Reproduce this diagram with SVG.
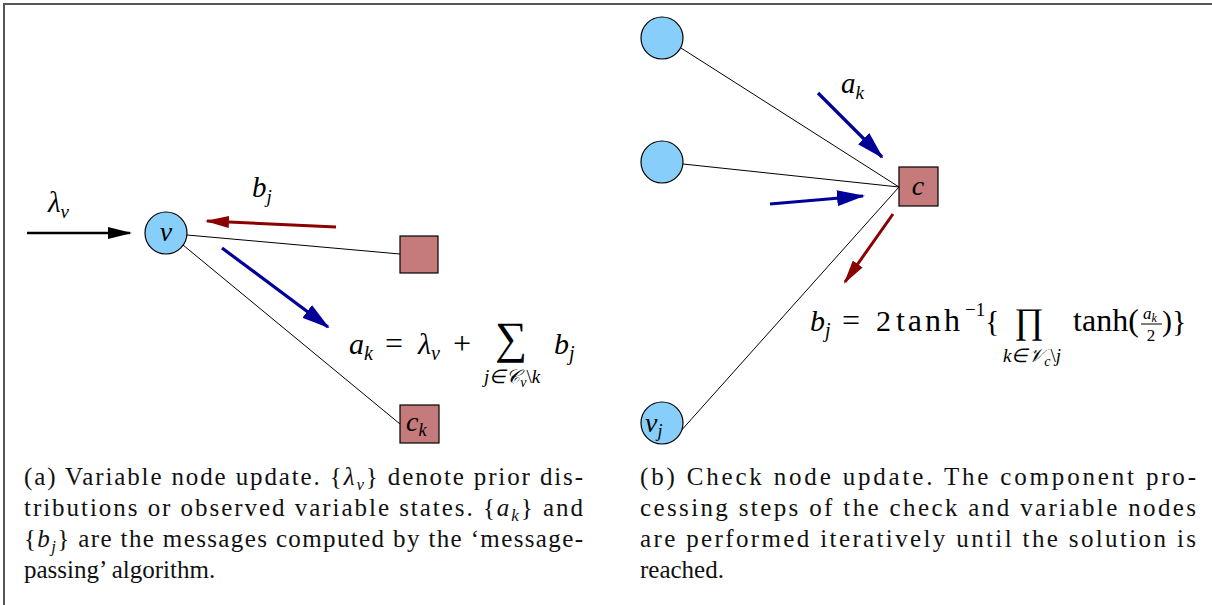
<svg xmlns="http://www.w3.org/2000/svg" width="1212" height="605" viewBox="0 0 1212 605">
  <style>
    .var { fill: #87CEFA; stroke: #000; stroke-width: 1.2; }
    .chk { fill: #C57B7B; stroke: #000; stroke-width: 1.2; }
    .edge { stroke: #000; stroke-width: 1; fill: none; }
    .msg-blue { stroke: #000099; stroke-width: 3.2; fill: none; }
    .msg-red { stroke: #8B0000; stroke-width: 3; fill: none; }
    .msg-black { stroke: #000; stroke-width: 2.5; fill: none; }
    .m { font-style: italic; fill: #000; }
    .r { font-style: normal; fill: #000; }
    .cap { font-size: 25px; fill: #111; }
  </style>
  <defs>
    <marker id="ahBlue" viewBox="0 0 28 16" refX="26" refY="8" markerWidth="28" markerHeight="16" markerUnits="userSpaceOnUse" orient="auto">
      <path d="M0,0 L28,8 L0,16 z" fill="#000099"/>
    </marker>
    <marker id="ahRed" viewBox="0 0 24 12" refX="22" refY="6" markerWidth="24" markerHeight="12" markerUnits="userSpaceOnUse" orient="auto">
      <path d="M0,0 L24,6 L0,12 z" fill="#8B0000"/>
    </marker>
    <marker id="ahBlack" viewBox="0 0 24 12" refX="22" refY="6" markerWidth="24" markerHeight="12" markerUnits="userSpaceOnUse" orient="auto">
      <path d="M0,0 L24,6 L0,12 z" fill="#000"/>
    </marker>
  </defs>

  <!-- frame -->
  <path d="M4,605 L4,4 L1212,4" fill="none" stroke="#555" stroke-width="2"/>

  <!-- edges and messages -->
  <g id="connectors">
    <!-- panel (a) -->
    <line class="edge" x1="187" y1="235" x2="400" y2="254"/>
    <line class="edge" x1="183" y1="245" x2="400" y2="424"/>
    <line class="msg-black" x1="27" y1="233" x2="130" y2="233" marker-end="url(#ahBlack)"/>
    <line class="msg-red" x1="336" y1="227" x2="207" y2="221" marker-end="url(#ahRed)"/>
    <line class="msg-blue" x1="222" y1="248" x2="328" y2="327" marker-end="url(#ahBlue)"/>
    <!-- panel (b) -->
    <line class="edge" x1="681" y1="48" x2="899" y2="187"/>
    <line class="edge" x1="683" y1="164" x2="899" y2="187"/>
    <line class="edge" x1="679" y1="433" x2="899" y2="187"/>
    <line class="msg-blue" x1="818" y1="93" x2="882" y2="157" marker-end="url(#ahBlue)"/>
    <line class="msg-blue" x1="770" y1="204" x2="863" y2="196" marker-end="url(#ahBlue)"/>
    <line class="msg-red" x1="893" y1="214" x2="845" y2="282" marker-end="url(#ahRed)"/>
  </g>

  <!-- panel (a) nodes -->
  <g id="node-v">
    <circle class="var" cx="166" cy="233" r="21"/>
    <text class="m" font-family="Liberation Serif, serif" x="166" y="241" font-size="28" text-anchor="middle">v</text>
  </g>
  <g id="node-c">
    <rect class="chk" x="400" y="236" width="38" height="37"/>
  </g>
  <g id="node-ck">
    <rect class="chk" x="400" y="405" width="39" height="38"/>
    <text class="m" font-family="Liberation Serif, serif" x="406" y="431" font-size="28">c<tspan font-size="18" dy="5">k</tspan></text>
  </g>

  <!-- panel (a) labels -->
  <g id="labels-a">
    <text class="m" font-family="Liberation Serif, serif" x="48" y="212" font-size="29">λ<tspan font-size="19" dy="6">v</tspan></text>
    <text class="m" font-family="Liberation Serif, serif" x="252" y="197" font-size="29">b<tspan font-size="19" dy="6">j</tspan></text>
    <text class="m" font-family="Liberation Serif, serif" x="349" y="354" font-size="30">a<tspan font-size="20" dy="6">k</tspan></text>
    <text class="r" font-family="Liberation Serif, serif" x="385" y="354" font-size="32">=</text>
    <text class="m" font-family="Liberation Serif, serif" x="418" y="354" font-size="30">λ<tspan font-size="20" dy="6">v</tspan></text>
    <text class="r" font-family="Liberation Serif, serif" x="453" y="354" font-size="32">+</text>
    <text class="r" font-family="Liberation Serif, serif" x="511" y="353" font-size="45" text-anchor="middle">∑</text>
    <text class="m" font-family="Liberation Serif, serif" x="554" y="354" font-size="30">b<tspan font-size="20" dy="6">j</tspan></text>
    <text class="m" font-family="Liberation Serif, serif" x="512" y="383" font-size="19" text-anchor="middle">j∈𝒞<tspan font-size="14" dy="4">v</tspan><tspan class="r" font-size="19" dy="-4">\</tspan>k</text>
  </g>

  <!-- panel (b) nodes -->
  <g id="node-top">
    <circle class="var" cx="662" cy="38" r="21"/>
  </g>
  <g id="node-mid">
    <circle class="var" cx="662" cy="162" r="21"/>
  </g>
  <g id="node-vj">
    <circle class="var" cx="662" cy="423" r="21"/>
    <text class="m" font-family="Liberation Serif, serif" x="645" y="432" font-size="28">v<tspan font-size="18" dy="5">j</tspan></text>
  </g>
  <g id="node-check">
    <rect class="chk" x="899" y="167" width="39" height="39"/>
    <text class="m" font-family="Liberation Serif, serif" x="918" y="195" font-size="28" text-anchor="middle">c</text>
  </g>

  <!-- panel (b) labels -->
  <g id="labels-b">
    <text class="m" font-family="Liberation Serif, serif" x="841" y="93" font-size="29">a<tspan font-size="19" dy="6">k</tspan></text>
    <text class="m" font-family="Liberation Serif, serif" x="810" y="331" font-size="30">b<tspan font-size="20" dy="6">j</tspan></text>
    <text class="r" font-family="Liberation Serif, serif" x="842" y="331" font-size="32">=</text>
    <text class="r" font-family="Liberation Serif, serif" x="876" y="331" font-size="30">2</text>
    <text class="r" font-family="Liberation Serif, serif" x="896" y="331" font-size="32" textLength="64" lengthAdjust="spacing">tanh</text>
    <text class="r" font-family="Liberation Serif, serif" x="965" y="316" font-size="19">−1</text>
    <text class="r" font-family="Liberation Serif, serif" x="985" y="331" font-size="30">{</text>
    <text class="r" font-family="Liberation Serif, serif" x="1029" y="333" font-size="36" text-anchor="middle">∏</text>
    <text class="r" font-family="Liberation Serif, serif" x="1073" y="331" font-size="32" textLength="66" lengthAdjust="spacing">tanh(</text>
    <text class="m" font-family="Liberation Serif, serif" x="1143" y="319" font-size="17">a<tspan font-size="12" dy="3">k</tspan></text>
    <line x1="1141" y1="324" x2="1162" y2="324" stroke="#000" stroke-width="1"/>
    <text class="r" font-family="Liberation Serif, serif" x="1151" y="341" font-size="17" text-anchor="middle">2</text>
    <text class="r" font-family="Liberation Serif, serif" x="1162" y="331" font-size="30">)}</text>
    <text class="m" font-family="Liberation Serif, serif" x="1032" y="362" font-size="19" text-anchor="middle">k∈𝒱<tspan font-size="14" dy="4">c</tspan><tspan class="r" font-size="19" dy="-4">\</tspan>j</text>
  </g>

  <!-- captions -->
  <g id="caption-a">
    <text class="cap" font-family="Liberation Serif, serif" x="24" y="485" textLength="559" lengthAdjust="spacing">(a) Variable node update. {<tspan font-style="italic">λ<tspan font-size="17" dy="5">v</tspan></tspan><tspan dy="-5">}</tspan> denote prior dis-</text>
    <text class="cap" font-family="Liberation Serif, serif" x="24" y="516" textLength="559" lengthAdjust="spacing">tributions or observed variable states. {<tspan font-style="italic">a<tspan font-size="17" dy="5">k</tspan></tspan><tspan dy="-5">}</tspan> and</text>
    <text class="cap" font-family="Liberation Serif, serif" x="24" y="547" textLength="559" lengthAdjust="spacing">{<tspan font-style="italic">b<tspan font-size="17" dy="5">j</tspan></tspan><tspan dy="-5">}</tspan> are the messages computed by the ‘message-</text>
    <text class="cap" font-family="Liberation Serif, serif" x="24" y="578">passing’ algorithm.</text>
  </g>
  <g id="caption-b">
    <text class="cap" font-family="Liberation Serif, serif" x="640" y="485" textLength="556" lengthAdjust="spacing">(b) Check node update.  The component pro-</text>
    <text class="cap" font-family="Liberation Serif, serif" x="640" y="516" textLength="556" lengthAdjust="spacing">cessing steps of the check and variable nodes</text>
    <text class="cap" font-family="Liberation Serif, serif" x="640" y="547" textLength="556" lengthAdjust="spacing">are performed iteratively until the solution is</text>
    <text class="cap" font-family="Liberation Serif, serif" x="640" y="578">reached.</text>
  </g>
</svg>
